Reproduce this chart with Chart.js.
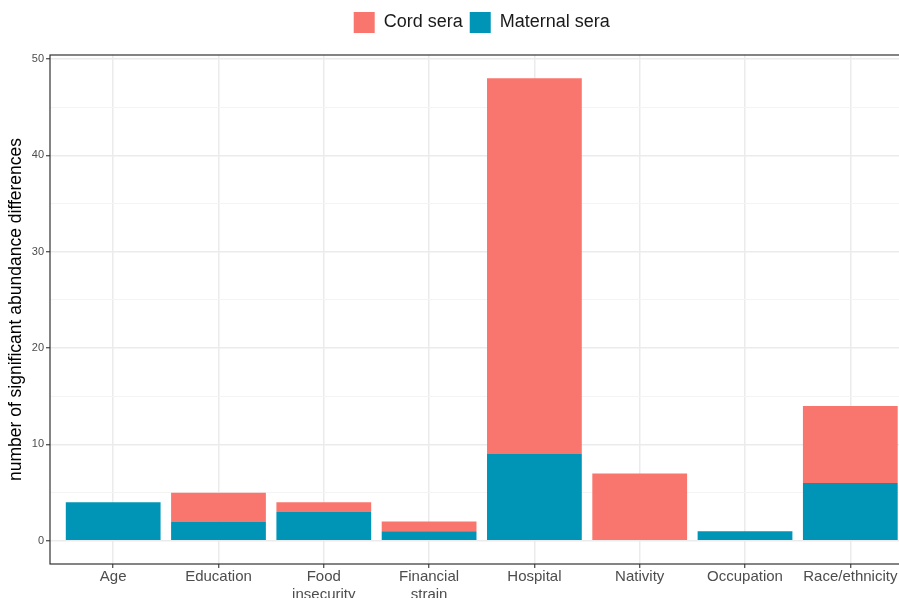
<!DOCTYPE html>
<html>
<head>
<meta charset="utf-8">
<script src="https://cdn.jsdelivr.net/npm/chart.js@4/dist/chart.umd.min.js"></script>
<style>
  html, body { margin: 0; padding: 0; background: #fff; overflow: hidden; }
</style>
</head>
<body>
<canvas id="grafico" width="930" height="598"></canvas>
<script>
// categorías y valores
const categorias = ['Age', 'Education', 'Food insecurity', 'Financial strain', 'Hospital', 'Nativity', 'Occupation', 'Race/ethnicity'];
const etiquetasX = ['Age', 'Education', ['Food', 'insecurity'], ['Financial', 'strain'], 'Hospital', 'Nativity', 'Occupation', 'Race/ethnicity'];
const maternal = [4, 2, 3, 1, 9, 0, 1, 6];
const cord = [0, 3, 1, 1, 39, 7, 0, 8];
const ticksY = [0, 5, 10, 15, 20, 25, 30, 35, 40, 45, 50];

const fuente = "'Liberation Sans', Arial, Helvetica, sans-serif";

// borde del panel (estilo theme_bw)
const bordePanel = {
    id: 'bordePanel',
    afterDatasetsDraw(chart) {
        const a = chart.chartArea;
        const ctx = chart.ctx;
        ctx.save();
        ctx.strokeStyle = '#333333';
        ctx.lineWidth = 1.2;
        ctx.strokeRect(a.left, a.top, a.right - a.left, a.bottom - a.top);
        ctx.restore();
    }
};

document.addEventListener('DOMContentLoaded', function() {
    const ctx = document.getElementById('grafico').getContext('2d');
    new Chart(ctx, {
        type: 'bar',
        data: {
            datasets: [{
                label: 'Maternal sera',
                data: maternal.map((v, i) => ({ x: i, y: v })),
                xAxisID: 'x',
                yAxisID: 'y',
                backgroundColor: '#0095b6',
                borderWidth: 0
            }, {
                label: 'Cord sera',
                data: cord.map((v, i) => ({ x: i, y: v })),
                xAxisID: 'x',
                yAxisID: 'y',
                backgroundColor: '#f8766d',
                borderWidth: 0
            }]
        },
        options: {
            responsive: false,
            animation: false,
            grouped: false,
            categoryPercentage: 0.9,
            barPercentage: 1,
            layout: { padding: { top: 5, right: 16.5, left: 0, bottom: 0 } },
            plugins: {
                tooltip: { enabled: false },
                legend: {
                    position: 'top',
                    fullSize: false,
                    reverse: true,
                    labels: {
                        boxWidth: 21,
                        boxHeight: 21,
                        padding: 7,
                        color: '#1a1a1a',
                        font: { family: fuente, size: 18 }
                    }
                }
            },
            scales: {
                x: {
                    type: 'linear',
                    offset: false,
                    min: -0.6,
                    max: 7.6,
                    afterBuildTicks(axis) {
                        axis.ticks = categorias.map((c, i) => ({ value: i }));
                    },
                    afterFit(scale) { scale.height = 34; },
                    grid: {
                        offset: false,
                        color: '#ebebeb',
                        lineWidth: 1.5,
                        tickColor: '#333333',
                        tickLength: 4,
                        tickWidth: 1.1
                    },
                    border: { display: false },
                    ticks: {
                        autoSkip: false,
                        maxRotation: 0,
                        padding: 0,
                        color: '#4d4d4d',
                        font: { family: fuente, size: 15 },
                        callback: (v) => etiquetasX[v]
                    }
                },
                // eje vacío que deja el hueco entre la leyenda y el panel
                espacio: {
                    type: 'linear',
                    axis: 'x',
                    position: 'top',
                    display: true,
                    grid: { display: false, drawTicks: false },
                    border: { display: false },
                    ticks: { display: false },
                    afterFit(scale) { scale.height = 12; }
                },
                y: {
                    type: 'linear',
                    stacked: true,
                    min: -2.4,
                    max: 50.4,
                    afterBuildTicks(axis) {
                        axis.ticks = ticksY.map(v => ({ value: v }));
                    },
                    afterFit(scale) { scale.width = 50; },
                    grid: {
                        color: (c) => c.tick && c.tick.value % 10 === 0 ? '#ebebeb' : '#f4f4f4',
                        lineWidth: (c) => c.tick && c.tick.value % 10 === 0 ? 1.5 : 1,
                        tickColor: (c) => c.tick && c.tick.value % 10 === 0 ? '#333333' : 'rgba(0,0,0,0)',
                        tickLength: 4,
                        tickWidth: 1.1
                    },
                    border: { display: false },
                    ticks: {
                        autoSkip: false,
                        padding: 2,
                        color: '#4d4d4d',
                        font: { family: fuente, size: 11 },
                        callback: (v) => v % 10 === 0 ? v : ''
                    },
                    title: {
                        display: true,
                        text: 'number of significant abundance differences',
                        color: '#000000',
                        font: { family: fuente, size: 17.5 },
                        padding: { top: 6, bottom: 0 }
                    }
                }
            }
        },
        plugins: [bordePanel]
    });
});
</script>
</body>
</html>
